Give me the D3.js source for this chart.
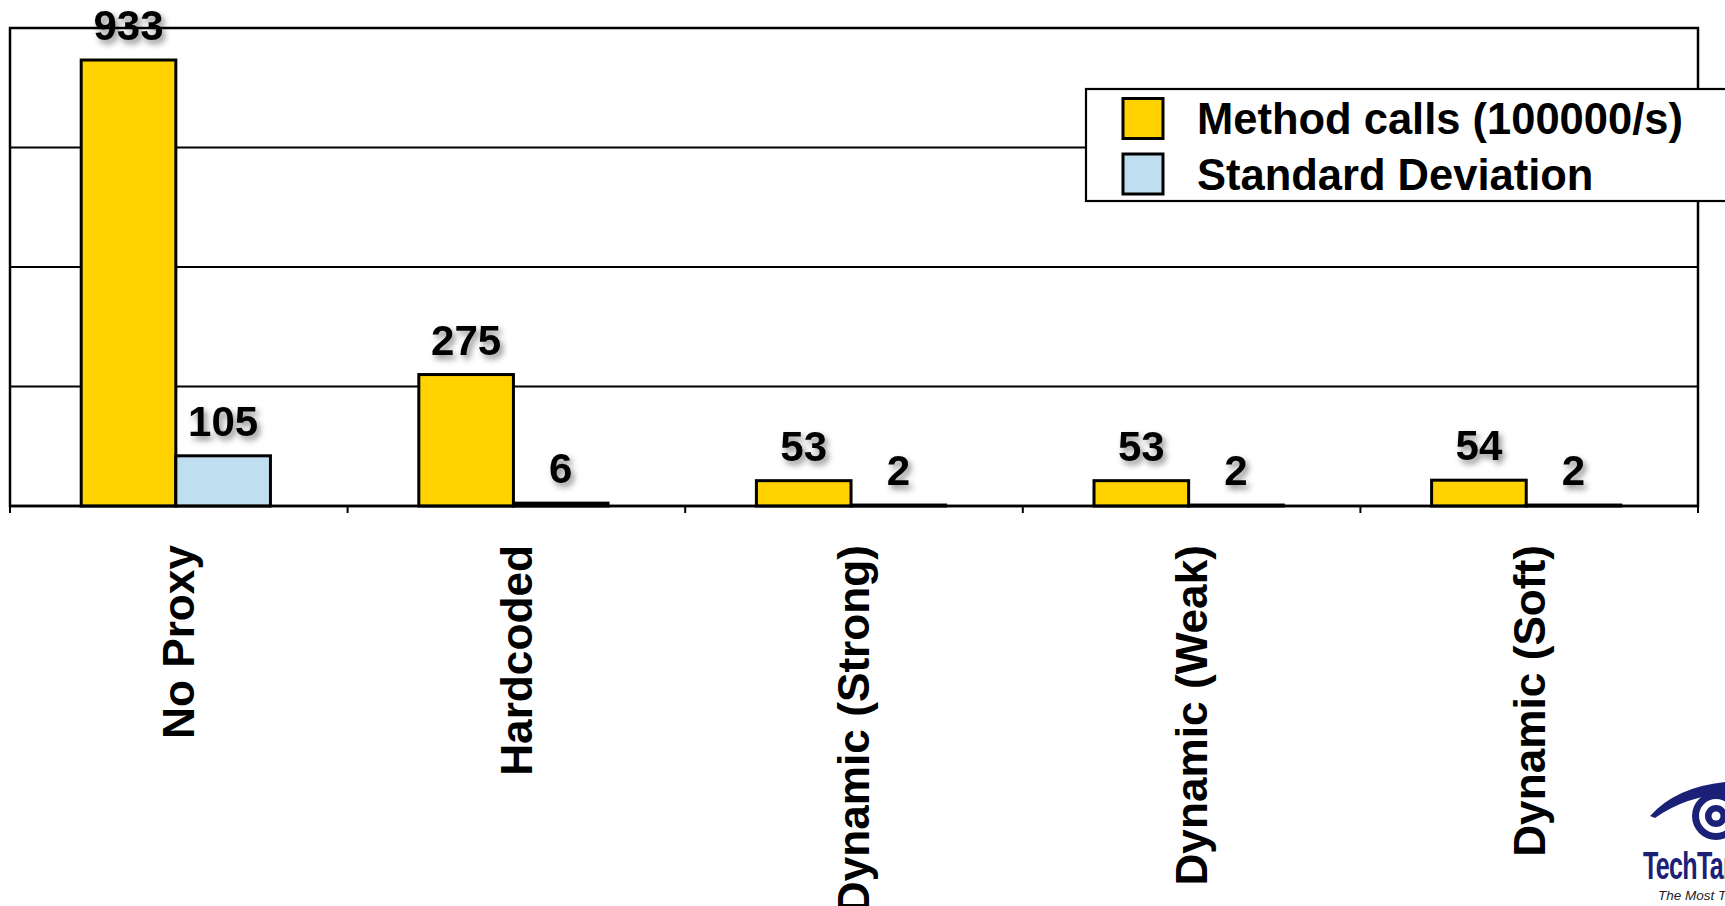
<!DOCTYPE html>
<html>
<head>
<meta charset="utf-8">
<script src="https://cdn.jsdelivr.net/npm/d3@7"></script>
<style>
  html, body { margin: 0; padding: 0; background: #fff; overflow: hidden; }
  svg { display: block; }
  text { font-family: "Liberation Sans", Arial, Helvetica, sans-serif; }
</style>
</head>
<body>
<script>
// Proxy benchmark: throughput and spread per proxy kind
const categories = ["No Proxy", "Hardcoded", "Dynamic (Strong)", "Dynamic (Weak)", "Dynamic (Soft)"];
const methodCalls = [933, 275, 53, 53, 54];
const stdDeviation = [105, 6, 2, 2, 2];
const seriesNames = ["Method calls (100000/s)", "Standard Deviation"];
const seriesColors = ["#ffd200", "#bfdff1"];
const yTicks = [0, 250, 500, 750, 1000];

const W = 1725, H = 906;
const plot = { left: 10, right: 1698, top: 28, bottom: 506 };

const svg = d3.select("body").append("svg")
  .attr("width", W).attr("height", H);

const defs = svg.append("defs");
const shadow = defs.append("filter").attr("id", "labelShadow")
  .attr("x", "-30%").attr("y", "-30%").attr("width", "160%").attr("height", "160%");
shadow.append("feDropShadow")
  .attr("dx", 3).attr("dy", 4).attr("stdDeviation", 3)
  .attr("flood-color", "#000").attr("flood-opacity", 0.45);

const x0 = d3.scaleBand().domain(categories).range([plot.left, plot.right]).padding(0);
const x1 = d3.scaleBand().domain([0, 1]).range([0, x0.bandwidth()])
  .paddingInner(0).paddingOuter(0.784).align(0.48);
const y = d3.scaleLinear().domain([0, 1000]).range([plot.bottom, plot.top]);

// Horizontal grid lines
svg.append("g").selectAll("line")
  .data(yTicks.slice(1, -1))
  .join("line")
  .attr("x1", plot.left).attr("x2", plot.right)
  .attr("y1", d => y(d)).attr("y2", d => y(d))
  .attr("stroke", "#000").attr("stroke-width", 2.2);

// Plot frame
svg.append("rect")
  .attr("x", plot.left).attr("y", plot.top)
  .attr("width", plot.right - plot.left).attr("height", plot.bottom - plot.top)
  .attr("fill", "none").attr("stroke", "#000").attr("stroke-width", 2.5);

// Bars
const rows = categories.map((c, i) => ({ cat: c, vals: [methodCalls[i], stdDeviation[i]] }));
const groups = svg.append("g").selectAll("g")
  .data(rows).join("g")
  .attr("transform", d => `translate(${x0(d.cat)},0)`);

groups.selectAll("rect")
  .data(d => d.vals.map((v, k) => ({ v, k })))
  .join("rect")
  .attr("x", d => x1(d.k))
  .attr("width", x1.bandwidth())
  .attr("y", d => y(d.v))
  .attr("height", d => y(0) - y(d.v))
  .attr("fill", d => seriesColors[d.k])
  .attr("stroke", "#000").attr("stroke-width", 3);

// X axis with ticks between groups
const xAxis = svg.append("g").attr("transform", `translate(0,${plot.bottom})`);
xAxis.append("line")
  .attr("x1", plot.left).attr("x2", plot.right)
  .attr("stroke", "#000").attr("stroke-width", 2.5);
const edges = categories.map(c => x0(c)).concat([plot.right]);
xAxis.selectAll("line.tick").data(edges).join("line")
  .attr("class", "tick")
  .attr("x1", d => d).attr("x2", d => d)
  .attr("y1", 0).attr("y2", 7)
  .attr("stroke", "#000").attr("stroke-width", 2);

// Category labels, rotated
svg.append("g").selectAll("text")
  .data(categories).join("text")
  .attr("transform", d => `translate(${x0(d) + x0.bandwidth() / 2},545) rotate(-90)`)
  .attr("text-anchor", "end")
  .attr("dy", "0.35em")
  .attr("font-size", 44.2)
  .attr("font-weight", "bold")
  .attr("fill", "#000")
  .text(d => d);

// Value labels with soft shadow
groups.selectAll("text")
  .data(d => d.vals.map((v, k) => ({ v, k })))
  .join("text")
  .attr("x", d => x1(d.k) + x1.bandwidth() / 2)
  .attr("y", d => y(d.v) - 20)
  .attr("text-anchor", "middle")
  .attr("font-size", 42)
  .attr("font-weight", "bold")
  .attr("fill", "#000")
  .attr("filter", "url(#labelShadow)")
  .text(d => d.v);

// Legend
const legend = svg.append("g").attr("transform", "translate(1086,89)");
legend.append("rect")
  .attr("x", 0).attr("y", 0).attr("width", 720).attr("height", 112)
  .attr("fill", "#fff").attr("stroke", "#000").attr("stroke-width", 2.2);
const items = legend.selectAll("g.item").data(seriesNames).join("g")
  .attr("class", "item")
  .attr("transform", (d, i) => `translate(0,${29.5 + i * 55.5})`);
items.append("rect")
  .attr("x", 37).attr("y", -20).attr("width", 40).attr("height", 40)
  .attr("fill", (d, i) => seriesColors[i])
  .attr("stroke", "#000").attr("stroke-width", 3);
items.append("text")
  .attr("x", 111).attr("y", 0).attr("dy", "0.36em")
  .attr("font-size", 43.5).attr("font-weight", "bold").attr("fill", "#000")
  .text(d => d);

// Corner logo
const navy = "#1c2178";
const logo = svg.append("g");
logo.append("path")
  .attr("d", "M1650,816 Q1676,787 1725,782 L1725,794 Q1686,796 1655,818 Z")
  .attr("fill", navy);
logo.append("circle").attr("cx", 1716).attr("cy", 816).attr("r", 24).attr("fill", navy);
logo.append("circle").attr("cx", 1716).attr("cy", 816).attr("r", 17).attr("fill", "#fff");
logo.append("circle").attr("cx", 1716).attr("cy", 816).attr("r", 11).attr("fill", navy);
logo.append("circle").attr("cx", 1716).attr("cy", 816).attr("r", 4.5).attr("fill", "#fff");
logo.append("text")
  .attr("transform", "translate(1643,879) scale(0.66,1)")
  .attr("font-size", 38).attr("font-weight", "bold").attr("fill", navy)
  .attr("letter-spacing", -1)
  .text("TechTarget");
logo.append("text")
  .attr("x", 1658).attr("y", 900)
  .attr("font-size", 13.5).attr("font-style", "italic")
  .attr("fill", "#222")
  .text("The Most Targeted");
</script>
</body>
</html>
